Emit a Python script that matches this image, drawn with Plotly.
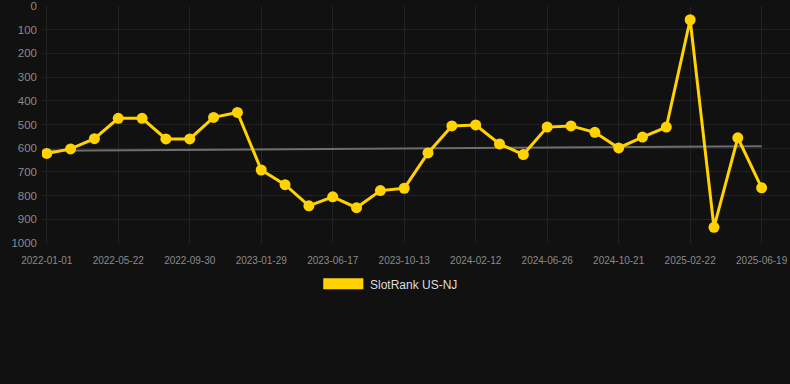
import numpy as np
import plotly.graph_objects as go

dates = [
    "2022-01-01", "2022-02-17", "2022-04-05", "2022-05-22", "2022-07-05", "2022-08-17",
    "2022-09-30", "2022-11-09", "2022-12-19", "2023-01-29", "2023-03-15", "2023-05-01",
    "2023-06-17", "2023-07-26", "2023-09-03", "2023-10-13", "2023-11-22", "2024-01-02",
    "2024-02-12", "2024-03-28", "2024-05-12", "2024-06-26", "2024-08-04", "2024-09-12",
    "2024-10-21", "2024-12-01", "2025-01-11", "2025-02-22", "2025-04-04", "2025-05-12",
    "2025-06-19",
]
ranks = [
    622, 603, 560, 474, 474, 561, 561, 470, 449, 692, 754, 843, 805, 851, 779, 769,
    620, 506, 502, 582, 627, 511, 506, 533, 599, 553, 511, 58, 934, 556, 767,
]
tick_labels = dates[::3]
y_ticks = [0, 100, 200, 300, 400, 500, 600, 700, 800, 900, 1000]
series_name = "SlotRank US-NJ"

YELLOW = "#FFD200"
BG = "#111111"
GRID = "#222222"
TICK = "#8a8a8a"
FONT = "Liberation Sans, Arial, sans-serif"

idx = np.arange(len(ranks))
slope, intercept = np.polyfit(idx, ranks, 1)
trend = (slope * idx + intercept).tolist()

fig = go.Figure()
fig.add_trace(go.Scatter(
    x=dates, y=trend, mode="lines",
    line=dict(color="#6e6e6e", width=2),
    hoverinfo="skip", showlegend=False,
))
fig.add_trace(go.Scatter(
    x=dates, y=ranks, mode="lines+markers", name=series_name,
    line=dict(color=YELLOW, width=3),
    marker=dict(color=YELLOW, size=11),
    showlegend=False,
))

# custom legend (box + label), as in reference
fig.add_shape(type="rect", xref="paper", yref="paper",
              x0=0.376, x1=0.4296, y0=-0.149, y1=-0.195,
              fillcolor=YELLOW, line=dict(width=0))
fig.add_annotation(xref="paper", yref="paper", x=0.436, y=-0.177,
                   xanchor="left", yanchor="middle", showarrow=False,
                   text=series_name, font=dict(family=FONT, size=12, color="#dddddd"))

fig.update_layout(
    width=790, height=384,
    paper_bgcolor=BG, plot_bgcolor=BG,
    margin=dict(l=42, r=0, t=6, b=141),
    font=dict(family=FONT, color=TICK),
    showlegend=False,
)
fig.update_xaxes(
    type="category", categoryorder="array", categoryarray=dates,
    tickmode="array", tickvals=tick_labels, ticktext=tick_labels,
    range=[-0.2, 31.19],
    showgrid=True, gridcolor=GRID, gridwidth=1,
    zeroline=False, showline=False, ticks="",
    tickfont=dict(size=10, color=TICK), tickangle=0,
    ticklabelstandoff=10,
)
fig.update_yaxes(
    range=[1000, 0],
    tickmode="array", tickvals=y_ticks, ticktext=[str(v) for v in y_ticks],
    showgrid=True, gridcolor=GRID, gridwidth=1,
    zeroline=False, showline=False, ticks="",
    tickfont=dict(size=11.5, color=TICK),
    ticklabelstandoff=4,
)

fig.write_html(
    "out.html",
    config={"displayModeBar": False},
    post_script="document.body.style.margin='0';document.body.style.background='#111111';",
)
